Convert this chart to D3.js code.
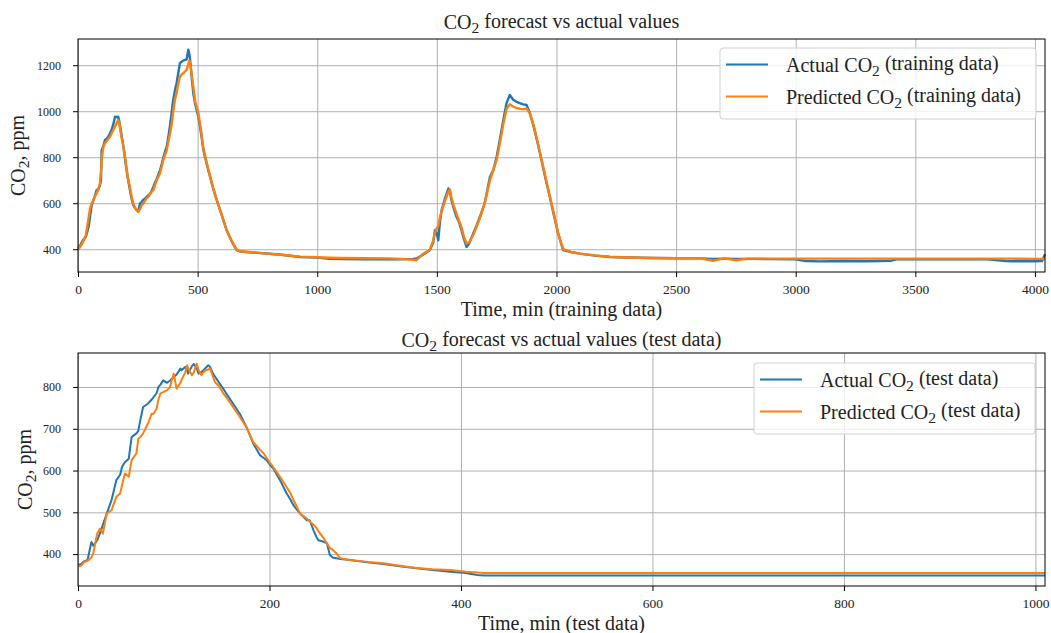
<!DOCTYPE html>
<html>
<head>
<meta charset="utf-8">
<script src="https://cdn.jsdelivr.net/npm/d3@7"></script>
<style>
  body { margin: 0; background: #fff; }
  text { font-family: "Liberation Serif", "Times New Roman", serif; fill: #222; }
</style>
</head>
<body>
<script>
const svgWidth = 1051
const svgHeight = 633

// training data (minutes, ppm)
const trainTime = [0,10,20,33,45,50,57,64,70,78,85,92,96,99,106,113,120,127,134,141,148,155,162,168,172,176,183,190,197,203,210,217,224,231,238,245,252,259,266,273,280,287,294,301,308,315,322,329,336,343,350,357,364,371,378,384,391,398,405,412,419,426,433,440,447,454,461,465,468,475,482,490,503,515,524,538,552,566,580,600,621,642,663,680,700,750,800,850,928,1000,1050,1100,1200,1300,1350,1400,1415,1440,1471,1485,1492,1499,1506,1513,1520,1534,1548,1555,1561,1570,1582,1592,1603,1613,1624,1635,1652,1665,1680,1700,1722,1736,1750,1764,1778,1791,1805,1819,1833,1847,1861,1875,1889,1903,1917,1931,1945,1958,1972,1990,2007,2028,2060,2098,2160,2223,2300,2400,2500,2600,2654,2700,2752,2800,2900,3000,3040,3100,3200,3300,3400,3420,3500,3600,3700,3800,3880,3900,4000,4030,4042]
const trainActual = [403,418,438,454,500,541,590,613,630,657,660,679,700,831,850,875,880,890,905,920,945,976,975,976,960,933,890,846,790,744,700,657,620,592,580,570,565,599,605,615,620,628,635,640,655,671,690,705,725,744,770,800,825,846,890,933,990,1049,1090,1122,1165,1209,1215,1220,1223,1225,1268,1250,1230,1150,1078,1030,976,900,831,770,715,660,613,550,483,435,396,390,388,384,380,376,366,364,358,357,356,357,356,358,360,375,396,430,483,470,439,520,570,620,664,650,613,580,541,520,483,445,410,425,468,500,541,600,715,744,802,880,962,1034,1071,1050,1041,1035,1030,1027,991,940,880,817,750,690,628,545,468,396,388,381,372,366,364,362,361,360,358,359,358,358,357,356,349,347,349,348,350,356,356,356,356,356,349,348,348,349,378]
const trainPredicted = [398,412,430,462,540,575,599,612,628,643,660,686,740,790,846,862,870,880,889,905,920,933,950,962,955,925,880,845,800,750,700,671,630,599,580,570,562,575,590,599,610,622,628,640,650,657,680,700,715,730,760,790,810,831,870,900,940,1000,1050,1078,1120,1150,1160,1165,1172,1180,1205,1220,1216,1160,1107,1040,991,910,840,775,718,662,615,552,485,438,398,391,389,385,380,376,368,365,363,362,361,360,358,354,352,378,398,440,470,490,500,540,565,610,650,660,625,590,555,525,495,455,425,430,462,495,535,600,700,745,790,865,945,1010,1030,1020,1015,1010,1008,1012,990,945,885,820,755,695,630,550,470,400,388,381,373,367,364,362,361,360,350,360,352,359,359,359,359,359,359,359,359,359,359,359,359,359,359,359,358,358,358,362]

// test data (minutes, ppm)
const testTime = [0,3,6,10,14,16,20,23,26,30,35,40,44,46,49,53,56,61,63,65,68,73,77,79,82,84,86,89,93,96,100,103,107,108,112,114,115,119,121,124,126,129,131,133,136,138,141,143,148,152,155,162,169,176,183,190,194,197,201,204,211,218,222,225,232,239,242,246,249,251,256,260,263,266,270,274,284,300,319,340,354,370,389,405,417,424,500,600,700,800,900,1010]
const testActual = [374,376,382,386,429,420,433,450,470,497,529,577,590,609,620,628,680,689,695,720,752,760,770,776,785,800,805,816,810,815,824,830,844,840,848,840,832,850,855,845,832,836,840,845,852,848,832,825,808,795,784,760,736,704,665,637,630,625,612,605,577,545,530,517,497,481,481,457,441,433,430,426,398,392,390,388,386,381,376,370,366,362,358,355,350,349,349,349,349,349,349,349]
const testPredicted = [370,372,380,384,392,402,449,461,449,497,505,537,545,565,593,585,625,641,676,680,689,712,736,736,748,770,784,788,792,800,832,796,810,816,835,852,845,828,835,856,840,828,835,840,842,844,825,812,800,784,775,752,728,704,668,650,641,630,617,608,585,560,545,530,497,485,478,470,463,455,440,426,415,410,402,390,386,382,378,371,367,364,362,358,356,355,355,355,355,355,355,355]

const trainXTicks = [0, 500, 1000, 1500, 2000, 2500, 3000, 3500, 4000]
const trainYTicks = [400, 600, 800, 1000, 1200]
const testXTicks = [0, 200, 400, 600, 800, 1000]
const testYTicks = [400, 500, 600, 700, 800]

const blue = "#1f77b4"
const orange = "#ff7f0e"

const svg = d3.select("body").append("svg")
    .attr("width", svgWidth)
    .attr("height", svgHeight)

// text with a CO2 subscript
function co2Text(sel, before, after) {
  sel.append("tspan").text(before + "CO")
  sel.append("tspan").text("2").attr("font-size", "78%").attr("dy", "0.28em")
  sel.append("tspan").text(after).attr("dy", "-0.28em")
}

function drawPanel(p) {
  const w = p.right - p.left
  const h = p.bottom - p.top
  const g = svg.append("g").attr("transform", `translate(${p.left}, ${p.top})`)

  const all = p.actual.concat(p.predicted)
  const lo = d3.min(all), hi = d3.max(all)
  const pad = (hi - lo) * 0.05

  const x = d3.scaleLinear().domain([0, p.xMax]).range([0, w])
  const y = d3.scaleLinear().domain([lo - pad, hi + pad]).range([h, 0])

  // grid
  g.append("g")
    .attr("transform", `translate(0, ${h})`)
    .call(d3.axisBottom(x).tickValues(p.xTicks).tickSize(-h).tickFormat(""))
    .call(a => a.select(".domain").remove())
    .call(a => a.selectAll("line").attr("stroke", "#b0b0b0").attr("stroke-width", 1))
  g.append("g")
    .call(d3.axisLeft(y).tickValues(p.yTicks).tickSize(-w).tickFormat(""))
    .call(a => a.select(".domain").remove())
    .call(a => a.selectAll("line").attr("stroke", "#b0b0b0").attr("stroke-width", 1))

  const line = d3.line().x((d, i) => x(p.time[i])).y(d => y(d))

  g.append("path").datum(p.actual)
    .attr("fill", "none").attr("stroke", blue).attr("stroke-width", p.lineWidth)
    .attr("stroke-linejoin", "round")
    .attr("d", line)
  g.append("path").datum(p.predicted)
    .attr("fill", "none").attr("stroke", orange).attr("stroke-width", p.lineWidth)
    .attr("stroke-linejoin", "round")
    .attr("d", line)

  // axes
  const xAxis = g.append("g")
    .attr("transform", `translate(0, ${h})`)
    .call(d3.axisBottom(x).tickValues(p.xTicks).tickSize(5).tickPadding(7).tickFormat(d3.format("d")))
  xAxis.selectAll("text").attr("font-size", 13.5).attr("fill", "#222")
  const yAxis = g.append("g")
    .call(d3.axisLeft(y).tickValues(p.yTicks).tickSize(5).tickPadding(12).tickFormat(d3.format("d")))
  yAxis.selectAll("text").attr("font-size", 12).attr("fill", "#222")
  g.selectAll(".domain").remove()

  g.append("rect")
    .attr("width", w).attr("height", h)
    .attr("fill", "none").attr("stroke", "#000").attr("stroke-width", 1)

  // titles
  svg.append("text")
    .attr("x", p.left + w / 2).attr("y", p.titleY)
    .attr("text-anchor", "middle").attr("font-size", 20)
    .call(co2Text, "", " forecast vs actual values" + p.titleExtra)
  svg.append("text")
    .attr("x", p.left + w / 2).attr("y", p.xLabelY)
    .attr("text-anchor", "middle").attr("font-size", 20)
    .text(p.xLabel)
  svg.append("text")
    .attr("transform", `translate(${p.yLabelX}, ${p.top + h / 2}) rotate(-90)`)
    .attr("text-anchor", "middle").attr("font-size", 20)
    .call(co2Text, "", ", ppm")

  // legend
  const lg = svg.append("g").attr("transform", `translate(${p.legend.x}, ${p.legend.y})`)
  lg.append("rect")
    .attr("width", p.legend.w).attr("height", 71).attr("rx", 3)
    .attr("fill", "#fff").attr("fill-opacity", 0.8)
    .attr("stroke", "#d0d0d0").attr("stroke-width", 1)
  const items = [
    {name: "Actual ", color: blue},
    {name: "Predicted ", color: orange}
  ]
  items.forEach((it, i) => {
    const yy = 16.5 + i * 32
    lg.append("line")
      .attr("x1", 6).attr("x2", 48).attr("y1", yy).attr("y2", yy)
      .attr("stroke", it.color).attr("stroke-width", 2)
    lg.append("text")
      .attr("x", p.legend.textX).attr("y", yy + 7)
      .attr("font-size", 20)
      .call(co2Text, it.name, " (" + p.dataName + ")")
  })
}

drawPanel({
  left: 78, right: 1045, top: 39, bottom: 272,
  time: trainTime, actual: trainActual, predicted: trainPredicted,
  xMax: 4042, xTicks: trainXTicks, yTicks: trainYTicks, lineWidth: 2.4,
  titleY: 29, titleExtra: "", xLabelY: 316, xLabel: "Time, min (training data)",
  yLabelX: 25, dataName: "training data",
  legend: {x: 720, y: 48, w: 316, textX: 66}
})

drawPanel({
  left: 78, right: 1045, top: 353, bottom: 586,
  time: testTime, actual: testActual, predicted: testPredicted,
  xMax: 1010, xTicks: testXTicks, yTicks: testYTicks, lineWidth: 2,
  titleY: 347, titleExtra: " (test data)", xLabelY: 630, xLabel: "Time, min (test data)",
  yLabelX: 32, dataName: "test data",
  legend: {x: 754, y: 363, w: 281, textX: 66}
})
</script>
</body>
</html>
